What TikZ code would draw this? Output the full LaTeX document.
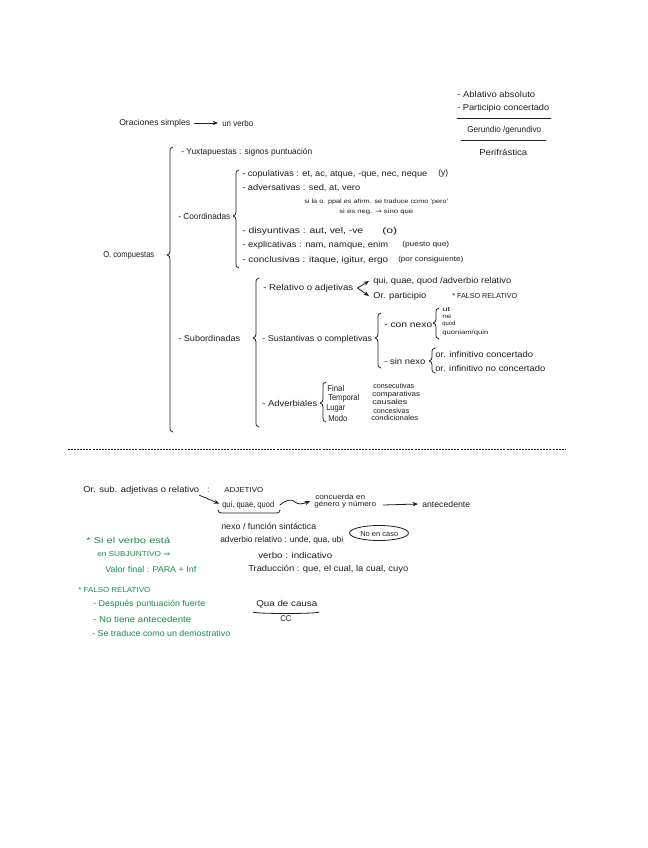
\documentclass[tikz,border=0pt]{standalone}
\usepackage{graphicx}
\usepackage{fontspec}
\setmainfont{Liberation Sans}
\newfontfamily\symfont{DejaVu Sans}
\usetikzlibrary{arrows.meta}
\definecolor{inkc}{HTML}{1E1E1E}
\definecolor{greenc}{HTML}{1B8A4C}
\newlength\pxunit \setlength\pxunit{0.75pt}
\newcommand\W[2]{\resizebox{#1\pxunit}{\height}{#2}}
\newcommand\sm{\fontsize{4.6}{5}\selectfont}
\newcommand\mi{\fontsize{5.4}{6}\selectfont}
\tikzset{
  tx/.style={anchor=west,inner sep=0pt,text=inkc,font=\fontsize{6.4}{7}\selectfont},
  gx/.style={tx,text=greenc},
  hand/.style={draw=inkc,line width=0.6pt,line cap=round,line join=round},
  harrow/.style={hand,-{Stealth[length=4pt,width=3.2pt]}},
}
\newcommand\T[5]{\node[tx] (#1) at (#2,#3) {\W{#4}{#5}};}
\newcommand\G[5]{\node[gx] (#1) at (#2,#3) {\W{#4}{#5}};}
\newcommand\Br[4]{\draw[hand] ({#1+3},#2) .. controls (#1,#2) and (#1,{#2+2}) .. (#1,{#2+6}) -- (#1,{#3-4}) .. controls (#1,{#3-2}) and ({#1-1},#3) .. ({#1-3},#3) .. controls ({#1-1},#3) and (#1,{#3+2}) .. (#1,{#3+4}) -- (#1,{#4-6}) .. controls (#1,{#4-2}) and (#1,#4) .. ({#1+3},#4);}
\begin{document}
\begin{tikzpicture}[x=0.75pt,y=-0.75pt]
\useasboundingbox[fill=white] (0,0) rectangle (648,848);
% top right
\T{abl}{457}{94}{78}{- Ablativo absoluto}
\T{part}{457}{108}{92}{- Participio concertado}
\coordinate (l1a) at (457,118); \coordinate (l1b) at (551,118);
\draw[hand] (l1a) -- (l1b);
\T{ger}{467}{130}{74}{Gerundio /gerundivo}
\coordinate (l2a) at (461,140); \coordinate (l2b) at (546,140);
\draw[hand] (l2a) -- (l2b);
\T{peri}{479}{152}{48}{Perifrástica}
% simple
\T{ora}{119}{123}{71}{Oraciones simples}
\T{unv}{222}{123}{31}{un verbo}
\draw[harrow] ([xshift=3pt]ora.east) -- ([xshift=-3pt]unv.west);
% level 1
\T{comp}{103}{255}{51}{O. compuestas}
\Br{170}{147}{255}{432}
\T{yux}{181}{152}{131}{- Yuxtapuestas : signos puntuación}
\T{coord}{178}{216}{52}{- Coordinadas}
\T{sub}{178}{338}{62}{- Subordinadas}
% coordinadas
\Br{236}{170}{216}{268}
\T{cop}{242}{174}{185}{- copulativas : et, ac, atque, -que, nec, neque}
\T{copy}{438}{173}{10}{(y)}
\T{adv}{242}{188}{118}{- adversativas : sed, at, vero}
\T{si1}{304}{202}{144}{\sm si la o. ppal es afirm. se traduce como 'pero'}
\T{si2}{339}{212}{74}{\sm si es neg. {\symfont →} sino que}
\T{dis}{242}{231}{121}{- disyuntivas : aut, vel, -ve}
\T{diso}{382}{231}{15}{(o)}
\T{exp}{242}{245}{146}{- explicativas : nam, namque, enim}
\T{expp}{402}{245}{47}{\mi (puesto que)}
\T{con}{242}{260}{146}{- conclusivas : itaque, igitur, ergo}
\T{conp}{398}{260}{65}{\mi (por consiguiente)}
% subordinadas
\Br{256}{278}{338}{427}
\T{rel}{263}{288}{90}{- Relativo o adjetivas}
\T{qui}{373}{281}{138}{qui, quae, quod /adverbio relativo}
\T{orp}{373}{296}{53}{Or. participio}
\T{fal}{452}{296}{65}{\mi * FALSO RELATIVO}
\draw[harrow] ([xshift=3pt]rel.east) -- ([xshift=-3pt]qui.west);
\draw[harrow] ([xshift=3pt]rel.east) -- ([xshift=-3pt]orp.west);
\T{sus}{262}{339}{110}{- Sustantivas o completivas}
\Br{378}{313}{338}{368}
\T{cnx}{384}{325}{48}{- con nexo}
\Br{436}{308}{323}{339}
\T{ut}{442}{310}{8}{\sm ut}
\T{ne}{442}{317}{9}{\sm ne}
\T{quod}{442}{324}{13}{\sm quod}
\T{quon}{442}{333}{46}{\sm quoniam/quin}
\T{snx}{384}{361}{41}{- sin nexo}
\Br{432}{348}{361}{373}
\T{inf}{435}{354}{98}{or. infinitivo concertado}
\T{infn}{435}{368}{110}{or. infinitivo no concertado}
\T{adb}{262}{403}{55}{- Adverbiales}
\Br{323}{382}{403}{422}
\T{fin}{327}{388}{17}{Final}
\T{tem}{328}{398}{31}{Temporal}
\T{lug}{326}{408}{19}{Lugar}
\T{mod}{328}{418}{19}{Modo}
\T{cons}{373}{386}{41}{\mi consecutivas}
\T{compa}{372}{395}{48}{\mi comparativas}
\T{caus}{372}{402}{35}{\mi causales}
\T{conc}{373}{411}{36}{\mi concesivas}
\T{cond}{371}{418}{47}{\mi condicionales}
% divider
\coordinate (da) at (68,449); \coordinate (db) at (565,449);
\draw[draw=inkc,line width=0.5pt,dash pattern=on 1.5pt off 0.8pt] (da) -- (db);
% lower section
\T{orsub}{83}{490}{116}{Or. sub. adjetivas o relativo}
\T{colon}{207}{490}{2}{:}
\T{adj}{224}{490}{39}{\mi ADJETIVO}
\T{qq}{222}{505}{52}{qui, quae, quod}
\draw[harrow] ([yshift=-4pt]orsub.east) -- ([xshift=-2pt,yshift=1pt]qq.west);
\draw[hand] (218,510) .. controls (219,513) .. (222,513) -- (276,513) .. controls (279,513) .. (280,510);
\T{conc1}{315}{497}{50}{\mi concuerda en}
\T{conc2}{314}{505}{62}{\mi género y número}
\coordinate (cc) at (310,501);
\draw[harrow] ([xshift=4pt]qq.east) .. controls (287,499) and (292,499) .. (295,502) .. controls (298,505) and (303,504) .. (cc);
\T{ante}{422}{504}{48}{antecedente}
\draw[harrow] ([xshift=5pt]conc2.east) -- ([xshift=-3pt]ante.west);
\T{nexo}{221}{526}{95}{nexo / función sintáctica}
\T{advr}{220}{540}{123}{adverbio relativo : unde, qua, ubi}
\T{ver}{258}{555}{74}{verbo : indicativo}
\T{trad}{248}{569}{160}{Traducción : que, el cual, la cual, cuyo}
\T{noen}{360}{534}{38}{\mi No en caso}
\draw[hand] (379,533) ellipse [x radius=29.5,y radius=7.5];
% green
\G{g1}{86}{540}{84}{* Si el verbo está}
\G{g2}{97}{554}{73}{\mi en SUBJUNTIVO {\symfont ⇒}}
\G{g3}{105}{569}{91}{Valor final : PARA + Inf}
\G{g4}{78}{590}{72}{\mi * FALSO RELATIVO}
\G{g5}{93}{604}{112}{- Después puntuación fuerte}
\G{g6}{93}{619}{98}{- No tiene antecedente}
\G{g7}{92}{633}{138}{- Se traduce como un demostrativo}
% qua de causa
\T{qua}{256}{604}{61}{Qua de causa}
\coordinate (qa) at (253,612); \coordinate (qb) at (319,612);
\draw[hand] (qa) .. controls (255,614) and (317,614) .. (qb);
\T{ccn}{280}{619}{11}{CC}
\end{tikzpicture}
\end{document}
